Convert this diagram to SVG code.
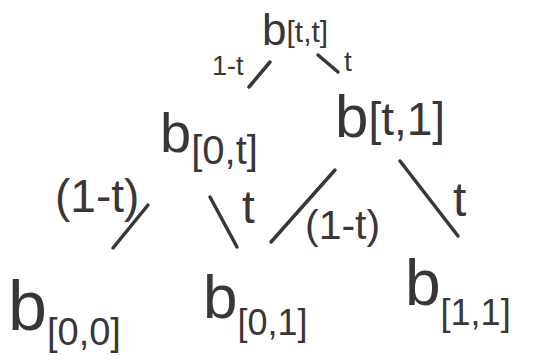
<svg xmlns="http://www.w3.org/2000/svg" width="540" height="364" viewBox="0 0 540 364">
<style>
text{font-family:"Liberation Sans","DejaVu Sans",sans-serif;fill:#3b3636}
.e{stroke:#3b3636;stroke-width:3.5;stroke-linecap:round;fill:none}
</style>
<rect width="540" height="364" fill="#fff"/>
<g id="connectors">
<line class="e" x1="270" y1="62" x2="249" y2="87"/>
<line class="e" x1="318" y1="55" x2="338" y2="72"/>
<line class="e" x1="148" y1="205" x2="113" y2="248"/>
<line class="e" x1="210" y1="197" x2="237" y2="247"/>
<line class="e" x1="335" y1="170" x2="271" y2="242"/>
<line class="e" x1="400" y1="161" x2="458" y2="236"/>
<text x="212" y="75" font-size="27">1-t</text>
<text x="344" y="71" font-size="28">t</text>
<text x="55" y="212" font-size="46">(1-t)</text>
<text x="242" y="223" font-size="46">t</text>
<text x="305" y="239" font-size="41">(1-t)</text>
<text x="453" y="216" font-size="48">t</text>
</g>
<g id="n_tt"><text x="262" y="45" font-size="44">b<tspan font-size="30" dy="-3">[t,t]</tspan></text></g>
<g id="n_0t"><text x="160" y="152" font-size="56">b<tspan font-size="40" dy="12">[0,t]</tspan></text></g>
<g id="n_t1"><text x="335" y="137" font-size="60">b<tspan font-size="46" dy="-2">[t,1]</tspan></text></g>
<g id="n_00"><text x="8" y="330" font-size="70">b<tspan font-size="38" dy="15">[0,0]</tspan></text></g>
<g id="n_01"><text x="203" y="318" font-size="62">b<tspan font-size="36" dy="17">[0,1]</tspan></text></g>
<g id="n_11"><text x="405" y="305" font-size="64">b<tspan font-size="36" dy="20">[1,1]</tspan></text></g>
</svg>
